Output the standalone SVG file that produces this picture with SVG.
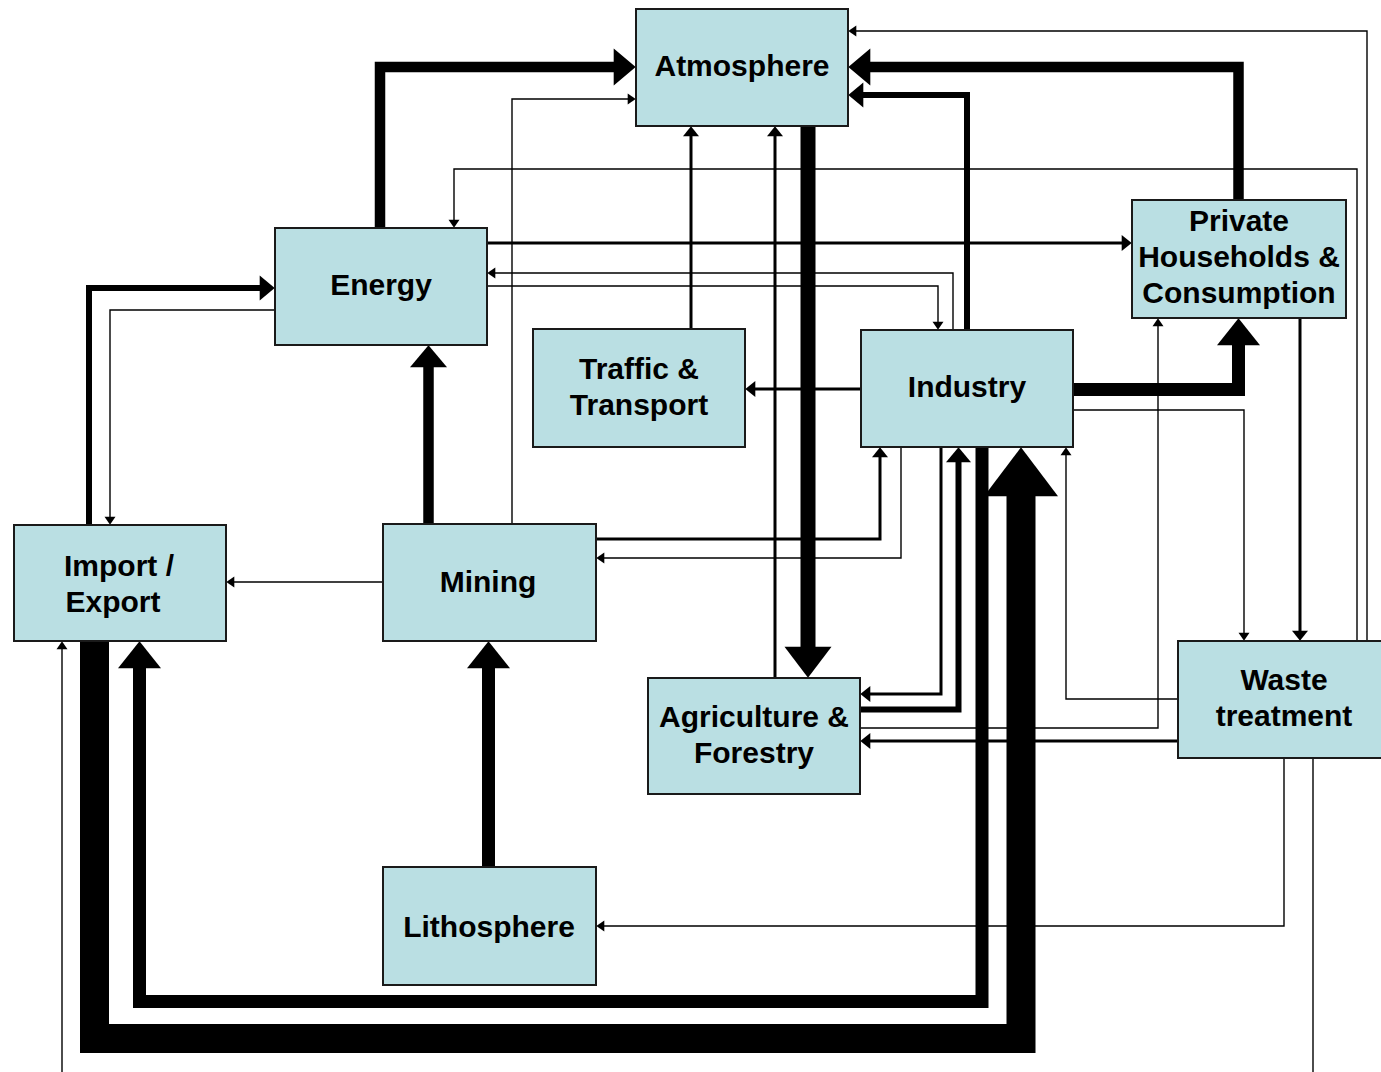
<svg xmlns="http://www.w3.org/2000/svg" width="1381" height="1072" viewBox="0 0 1381 1072">
  <style>
    .box { fill: #badfe3; stroke: #1a1a1a; stroke-width: 2; }
    .lbl { font-family: "Liberation Sans", Arial, sans-serif; font-weight: bold; font-size: 30px; fill: #000; text-anchor: middle; }
    .ln { fill: none; stroke: #000; stroke-linejoin: miter; stroke-linecap: butt; }
    .w1 { stroke-width: 1.4; }
    .w3 { stroke-width: 3; }
    .w6 { stroke-width: 6; }
    .w10 { stroke-width: 10.5; }
    .w13 { stroke-width: 13; }
    .w15 { stroke-width: 15; }
    .w29 { stroke-width: 29; }
  </style>
  <defs>
    <marker id="aT" markerUnits="userSpaceOnUse" markerWidth="8" markerHeight="11" viewBox="0 -5.5 8 11" refX="0.3" refY="0" orient="auto" overflow="visible"><path d="M0,-5.5 L8,0 L0,5.5 z"/></marker>
    <marker id="aM" markerUnits="userSpaceOnUse" markerWidth="10" markerHeight="16" viewBox="0 -8 10 16" refX="0.3" refY="0" orient="auto" overflow="visible"><path d="M0,-8 L10,0 L0,8 z"/></marker>
    <marker id="a5" markerUnits="userSpaceOnUse" markerWidth="15" markerHeight="25" viewBox="0 -12.5 15 25" refX="0.3" refY="0" orient="auto" overflow="visible"><path d="M0,-12.5 L15,0 L0,12.5 z"/></marker>
    <marker id="a10" markerUnits="userSpaceOnUse" markerWidth="22" markerHeight="37" viewBox="0 -18.5 22 37" refX="0.3" refY="0" orient="auto" overflow="visible"><path d="M0,-18.5 L22,0 L0,18.5 z"/></marker>
    <marker id="a13" markerUnits="userSpaceOnUse" markerWidth="27" markerHeight="43" viewBox="0 -21.5 27 43" refX="0.3" refY="0" orient="auto" overflow="visible"><path d="M0,-21.5 L27,0 L0,21.5 z"/></marker>
    <marker id="a15" markerUnits="userSpaceOnUse" markerWidth="31" markerHeight="47" viewBox="0 -23.5 31 47" refX="0.3" refY="0" orient="auto" overflow="visible"><path d="M0,-23.5 L31,0 L0,23.5 z"/></marker>
    <marker id="a29" markerUnits="userSpaceOnUse" markerWidth="49" markerHeight="74" viewBox="0 -37 49 74" refX="0.3" refY="0" orient="auto" overflow="visible"><path d="M0,-37 L49,0 L0,37 z"/></marker>
  </defs>

  <rect width="1381" height="1072" fill="#fff"/>

  <g id="connectors">
    <!-- flows into the atmosphere -->
    <path class="ln w10" d="M380,228 V67 H614" marker-end="url(#a10)"/>
    <path class="ln w10" d="M1238.5,200 V67 H870" marker-end="url(#a10)"/>
    <path class="ln w6" d="M967,330 V95 H863" marker-end="url(#a5)"/>
    <path class="ln w1" d="M1367,641 V31 H856" marker-end="url(#aT)"/>
    <path class="ln w1" d="M512,524 V99 H628" marker-end="url(#aT)"/>
    <path class="ln w3" d="M691,329 V136" marker-end="url(#aM)"/>
    <path class="ln w3" d="M775,678 V136" marker-end="url(#aM)"/>
    <!-- atmosphere to agriculture -->
    <path class="ln w15" d="M808,126 V647" marker-end="url(#a15)"/>

    <!-- energy links -->
    <path class="ln w1" d="M1357,641 V169 H454 V220" marker-end="url(#aT)"/>
    <path class="ln w3" d="M487,243 H1122" marker-end="url(#aM)"/>
    <path class="ln w1" d="M953,330 V273 H495" marker-end="url(#aT)"/>
    <path class="ln w1" d="M487,286 H938 V322" marker-end="url(#aT)"/>
    <path class="ln w6" d="M89,525 V288 H260" marker-end="url(#a5)"/>
    <path class="ln w1" d="M275,310 H110 V517" marker-end="url(#aT)"/>
    <path class="ln w10" d="M428.5,524 V367" marker-end="url(#a10)"/>

    <!-- mining and lithosphere -->
    <path class="ln w1" d="M383,582 H234" marker-end="url(#aT)"/>
    <path class="ln w13" d="M488.5,867 V668" marker-end="url(#a13)"/>
    <path class="ln w3" d="M596,539 H880 V457" marker-end="url(#aM)"/>
    <path class="ln w1" d="M901,447 V558 H604" marker-end="url(#aT)"/>

    <!-- industry outputs -->
    <path class="ln w3" d="M861,389 H755" marker-end="url(#aM)"/>
    <path class="ln w13" d="M1073,389.5 H1238.5 V345" marker-end="url(#a13)"/>
    <path class="ln w1" d="M1073,410 H1244 V633" marker-end="url(#aT)"/>
    <path class="ln w3" d="M941,447 V694 H870" marker-end="url(#aM)"/>

    <!-- agriculture outputs -->
    <path class="ln w6" d="M860,709.5 H958.5 V462" marker-end="url(#a5)"/>
    <path class="ln w1" d="M860,728 H1158 V326" marker-end="url(#aT)"/>

    <!-- households and waste treatment -->
    <path class="ln w3" d="M1300,318 V631" marker-end="url(#aM)"/>
    <path class="ln w3" d="M1178,741 H870" marker-end="url(#aM)"/>
    <path class="ln w1" d="M1178,699 H1066 V455" marker-end="url(#aT)"/>
    <path class="ln w1" d="M1284,758 V926 H604" marker-end="url(#aT)"/>
    <path class="ln w1" d="M1313,758 V1072"/>

    <!-- import / export loops -->
    <path class="ln w1" d="M62,1072 V649" marker-end="url(#aT)"/>
    <path class="ln w13" d="M982,447 V1001.5 H139.5 V668" marker-end="url(#a13)"/>
    <path class="ln w29" d="M94.5,639 V1038.5 H1021 V496" marker-end="url(#a29)"/>
  </g>

  <g id="atmosphere">
    <rect class="box" x="636" y="9" width="212" height="117"/>
    <text class="lbl" x="742" y="76">Atmosphere</text>
  </g>
  <g id="energy">
    <rect class="box" x="275" y="228" width="212" height="117"/>
    <text class="lbl" x="381" y="295">Energy</text>
  </g>
  <g id="households">
    <rect class="box" x="1132" y="200" width="214" height="118"/>
    <text class="lbl" x="1239" y="231">Private</text>
    <text class="lbl" x="1239" y="267">Households &amp;</text>
    <text class="lbl" x="1239" y="303">Consumption</text>
  </g>
  <g id="traffic">
    <rect class="box" x="533" y="329" width="212" height="118"/>
    <text class="lbl" x="639" y="379">Traffic &amp;</text>
    <text class="lbl" x="639" y="415">Transport</text>
  </g>
  <g id="industry">
    <rect class="box" x="861" y="330" width="212" height="117"/>
    <text class="lbl" x="967" y="397">Industry</text>
  </g>
  <g id="import-export">
    <rect class="box" x="14" y="525" width="212" height="116"/>
    <text class="lbl" x="119" y="576">Import /</text>
    <text class="lbl" x="113" y="612">Export</text>
  </g>
  <g id="mining">
    <rect class="box" x="383" y="524" width="213" height="117"/>
    <text class="lbl" x="488" y="592">Mining</text>
  </g>
  <g id="agriculture">
    <rect class="box" x="648" y="678" width="212" height="116"/>
    <text class="lbl" x="754" y="727">Agriculture &amp;</text>
    <text class="lbl" x="754" y="763">Forestry</text>
  </g>
  <g id="waste">
    <rect class="box" x="1178" y="641" width="212" height="117"/>
    <text class="lbl" x="1284" y="690">Waste</text>
    <text class="lbl" x="1284" y="726">treatment</text>
  </g>
  <g id="lithosphere">
    <rect class="box" x="383" y="867" width="213" height="118"/>
    <text class="lbl" x="489" y="937">Lithosphere</text>
  </g>
</svg>
